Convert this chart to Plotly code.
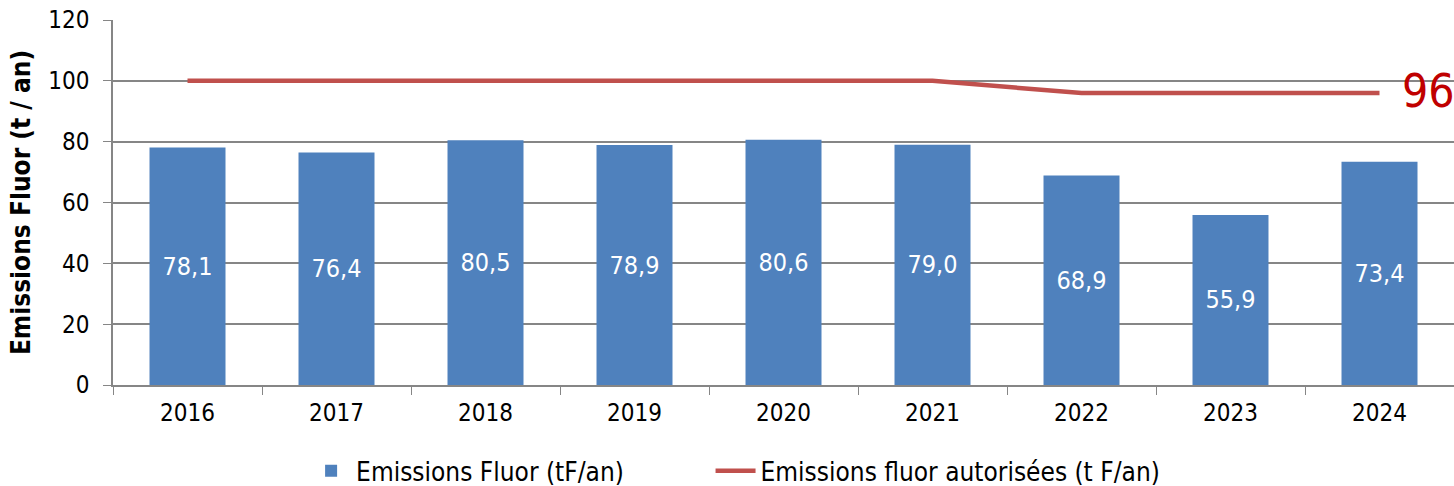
import plotly.graph_objects as go

years = ["2016", "2017", "2018", "2019", "2020", "2021", "2022", "2023", "2024"]
emissions = [78.1, 76.4, 80.5, 78.9, 80.6, 79.0, 68.9, 55.9, 73.4]
authorized = [100, 100, 100, 100, 100, 100, 96, 96, 96]
last_limit_label = "96"

FONT = "DejaVu Sans Condensed, DejaVu Sans, sans-serif"


def font(size, color="black", weight="normal"):
    return dict(family=FONT, size=size, color=color, weight=weight)


fig = go.Figure()
fig.add_trace(go.Bar(
    x=years, y=emissions,
    name="Emissions Fluor (tF/an)",
    marker=dict(color="#4F81BD", line=dict(width=0)),
    width=0.51,
    texttemplate="%{y:.1f}",
    textposition="inside",
    insidetextanchor="middle",
    textangle=0,
    textfont=font(25, "white"),
    legend="legend",
))
fig.add_trace(go.Scatter(
    x=years, y=authorized,
    name="Emissions fluor autorisées (t F/an)",
    mode="lines",
    line=dict(color="#C0504D", width=4.5),
    legend="legend2",
))

# value of the last authorised limit, written after the end of the line
fig.add_annotation(
    x=len(years) - 1, y=authorized[-1], text=last_limit_label,
    xref="x", yref="y", showarrow=False,
    xanchor="left", yanchor="middle", xshift=20, yshift=2,
    font=font(46, "#C00000"),
)

legend_common = dict(
    orientation="h", xanchor="left", y=-0.235, yanchor="middle",
    font=font(26), itemwidth=40, bgcolor="rgba(0,0,0,0)",
)

fig.update_layout(
    width=1454, height=486,
    margin=dict(l=113, r=0, t=20, b=101, autoexpand=False),
    plot_bgcolor="white", paper_bgcolor="white",
    separators=", ",
    font=font(24),
    showlegend=True,
    legend=dict(x=0.144, **legend_common),
    legend2=dict(x=0.4456, **legend_common),
    xaxis=dict(
        type="category",
        range=[-0.5, len(years) - 0.5],
        showline=True, linecolor="#868686", linewidth=1.5,
        ticks="outside", tickson="boundaries", ticklen=8, tickcolor="#868686",
        tickfont=font(24),
        tickangle=0,
        ticklabelstandoff=5,
        showgrid=False,
    ),
    yaxis=dict(
        range=[0, 120], dtick=20,
        showline=True, linecolor="#868686", linewidth=1.5,
        ticks="outside", ticklen=8, tickcolor="#868686",
        showgrid=True, gridcolor="#868686", gridwidth=1.5,
        zeroline=False,
        tickfont=font(24),
        ticklabelstandoff=9,
        title=dict(text="Emissions Fluor (t / an)", font=font(26, weight="bold"), standoff=10),
    ),
)

fig.write_html("out.html")
